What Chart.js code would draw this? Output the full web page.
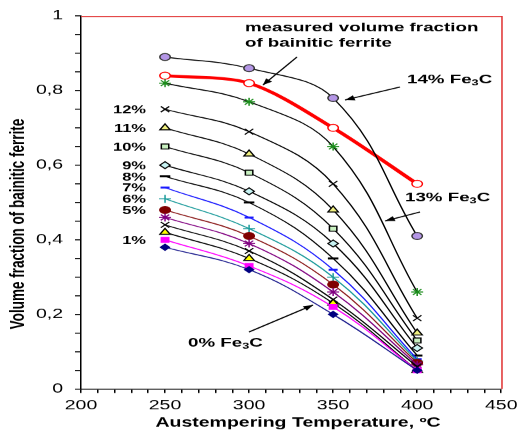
<!DOCTYPE html>
<html>
<head>
<meta charset="utf-8">
<script src="https://cdn.jsdelivr.net/npm/chart.js@4.4.1/dist/chart.umd.min.js"></script>
<style>
html,body{margin:0;padding:0;background:#fff;overflow:hidden;}
#wrap{position:absolute;left:0;top:0;width:350px;height:438px;transform:scaleX(1.5);transform-origin:0 0;}
canvas{display:block;}
</style>
</head>
<body>
<div id="wrap"><canvas id="c" width="350" height="438" style="width:350px;height:438px"></canvas></div>
<script>
// ---- data ----
const temps = [250, 300, 350, 400];
const fe0  = [0.38, 0.32, 0.20, 0.05];
const fe1  = [0.40, 0.33, 0.22, 0.05];
const fe2  = [0.42, 0.35, 0.23, 0.05];
const fe3  = [0.44, 0.37, 0.24, 0.06];
const fe4  = [0.46, 0.39, 0.26, 0.065];
const fe5  = [0.48, 0.41, 0.28, 0.07];
const fe6  = [0.51, 0.43, 0.30, 0.075];
const fe7  = [0.54, 0.46, 0.32, 0.08];
const fe8  = [0.57, 0.50, 0.35, 0.09];
const fe9  = [0.60, 0.53, 0.39, 0.11];
const fe10 = [0.65, 0.58, 0.43, 0.13];
const fe11 = [0.70, 0.63, 0.48, 0.15];
const fe12 = [0.75, 0.69, 0.55, 0.19];
const fe13 = [0.82, 0.77, 0.65, 0.26];
const fe14 = [0.89, 0.86, 0.78, 0.41];
const measured = [0.84, 0.82, 0.70, 0.55];
const xTickLabels = [200, 250, 300, 350, 400, 450];
const yTickLabels = ['0', '0,2', '0,4', '0,6', '0,8', '1'];

const pts = arr => arr.map((v, i) => ({x: temps[i], y: v}));
function ds(label, arr, o) {
  return Object.assign({
    label, data: pts(arr), borderColor: '#000', borderWidth: 1, tension: 0.4,
    pointRadius: 3, pointBorderWidth: 1, pointBorderColor: '#000', pointBackgroundColor: '#000',
    pointStyle: 'circle', fill: false
  }, o);
}
const datasets = [
  ds('0%', fe0, {borderColor:'#1a1a8c', pointStyle:'rectRot', pointBackgroundColor:'#000080', pointBorderColor:'#000080'}),
  ds('1%', fe1, {borderColor:'#ff00ff', pointStyle:'rect', pointBackgroundColor:'#ff00ff', pointBorderColor:'#ff00ff', pointRadius:3.5}),
  ds('2%', fe2, {pointStyle:'triangle', pointBackgroundColor:'#ffff00', pointRadius:4}),
  ds('3%', fe3, {pointStyle:'crossRot', pointRadius:4}),
  ds('4%', fe4, {borderColor:'#800080', pointStyle:'star', pointBorderColor:'#800080', pointRadius:4}),
  ds('5%', fe5, {borderColor:'#8b1a1a', pointStyle:'circle', pointBackgroundColor:'#800000', pointBorderColor:'#800000', pointRadius:3.5}),
  ds('6%', fe6, {borderColor:'#1a9a9a', pointStyle:'cross', pointBorderColor:'#1a9a9a', pointRadius:4}),
  ds('7%', fe7, {borderColor:'#1a1aff', pointStyle:'line', pointBorderColor:'#1a1aff', pointBorderWidth:2, pointRadius:3}),
  ds('8%', fe8, {pointStyle:'line', pointBorderWidth:2, pointRadius:3.5}),
  ds('9%', fe9, {pointStyle:'rectRot', pointBackgroundColor:'#c8f4f4', pointRadius:3.5}),
  ds('10%', fe10, {pointStyle:'rect', pointBackgroundColor:'#c8f0c0', pointRadius:3.5}),
  ds('11%', fe11, {pointStyle:'triangle', pointBackgroundColor:'#f0f080', pointRadius:4}),
  ds('12%', fe12, {pointStyle:'crossRot', pointRadius:4}),
  ds('13%', fe13, {pointStyle:'star', pointBorderColor:'#1a8c1a', pointRadius:4}),
  ds('14%', fe14, {pointStyle:'circle', pointBackgroundColor:'#b496e6', pointBorderColor:'#333', pointRadius:3.5}),
  ds('measured', measured, {borderColor:'#ff0000', borderWidth:3, tension:0.3, pointStyle:'circle', pointBackgroundColor:'#fff', pointBorderColor:'#ff0000', pointRadius:3.5})
];
const leftLabels = ['12%','11%','10%','9%','8%','7%','6%','5%','1%'];

function fe3c(ctx, txt, x, y) {
  ctx.font = 'bold 12.5px "Liberation Sans", Arial, sans-serif';
  ctx.textAlign = 'left'; ctx.textBaseline = 'middle';
  const a = txt + ' Fe';
  ctx.fillText(a, x, y);
  let w = ctx.measureText(a).width;
  ctx.font = 'bold 8.5px "Liberation Sans", Arial, sans-serif';
  ctx.fillText('3', x + w, y + 3);
  w += ctx.measureText('3').width;
  ctx.font = 'bold 12.5px "Liberation Sans", Arial, sans-serif';
  ctx.fillText('C', x + w, y);
}
function arrow(ctx, x1, y1, x2, y2) {
  ctx.beginPath(); ctx.moveTo(x1, y1); ctx.lineTo(x2, y2);
  ctx.strokeStyle = '#000'; ctx.lineWidth = 1; ctx.stroke();
  const ang = Math.atan2(y2 - y1, x2 - x1), L = 7, W = 0.38;
  ctx.beginPath(); ctx.moveTo(x2, y2);
  ctx.lineTo(x2 - L * Math.cos(ang - W), y2 - L * Math.sin(ang - W));
  ctx.lineTo(x2 - L * Math.cos(ang + W), y2 - L * Math.sin(ang + W));
  ctx.closePath(); ctx.fillStyle = '#000'; ctx.fill();
}

const deco = {
  id: 'deco',
  beforeDatasetsDraw(chart) {
    const {ctx, chartArea: a} = chart;
    ctx.save();
    ctx.strokeStyle = '#e03030'; ctx.lineWidth = 1;
    ctx.beginPath();
    ctx.moveTo(a.left, a.top + 0.5); ctx.lineTo(a.right + 0.5, a.top + 0.5); ctx.lineTo(a.right + 0.5, a.bottom);
    ctx.stroke();
    ctx.restore();
  },
  afterDraw(chart) {
    const {ctx, chartArea: a, scales} = chart;
    const xs = scales.x, ys = scales.y;
    ctx.save();
    ctx.fillStyle = '#000';
    // axis titles
    ctx.font = 'bold 13px "Liberation Sans", Arial, sans-serif';
    ctx.textAlign = 'center'; ctx.textBaseline = 'middle';
    ctx.fillText('Austempering Temperature, ºC', 198.7, 423);
    ctx.save();
    ctx.translate(12, 224); ctx.rotate(-Math.PI / 2);
    ctx.font = 'bold 13.5px "Liberation Sans", Arial, sans-serif';
    ctx.fillText('Volume fraction of bainitic ferrite', 0, 0);
    ctx.restore();
    // left percent labels
    ctx.font = 'bold 11px "Liberation Sans", Arial, sans-serif';
    ctx.textAlign = 'right'; ctx.textBaseline = 'middle';
    const x0 = xs.getPixelForValue(temps[0]) - 12.7;
    chart.data.datasets.forEach(d => {
      if (leftLabels.includes(d.label)) {
        ctx.fillText(d.label, x0, ys.getPixelForValue(d.data[0].y) + 1);
      }
    });
    // annotations
    ctx.font = 'bold 12.5px "Liberation Sans", Arial, sans-serif';
    ctx.textAlign = 'left';
    ctx.fillText('measured volume fraction', 163.3, 28);
    ctx.fillText('of bainitic ferrite', 163.3, 43);
    arrow(ctx, 198, 57, 175.3, 85);
    fe3c(ctx, '14%', 271.3, 80);
    arrow(ctx, 266.7, 87, 230, 100);
    fe3c(ctx, '13%', 270, 198);
    arrow(ctx, 280, 212, 256.7, 221);
    fe3c(ctx, '0%', 125.3, 343);
    arrow(ctx, 166, 332, 208.7, 305);
    ctx.restore();
  }
};

new Chart(document.getElementById('c'), {
  type: 'line',
  data: {datasets},
  options: {
    responsive: false,
    devicePixelRatio: 1.5,
    animation: false,
    layout: {padding: {top: 16, right: 12.7, left: 0, bottom: 0}},
    plugins: {legend: {display: false}, tooltip: {enabled: false}},
    scales: {
      x: {
        type: 'linear', min: 200, max: 450,
        afterFit: s => { s.height = 49; },
        grid: {display: true, drawOnChartArea: false, drawTicks: true, tickLength: 4, color: '#000'},
        border: {display: true, color: '#000', width: 1},
        ticks: {
          stepSize: 10, autoSkip: false, maxRotation: 0, padding: 5, color: '#000',
          font: {family: '"Liberation Sans", Arial, sans-serif', size: 13},
          callback: v => { const r = Math.round(v); return xTickLabels.includes(r) ? String(r) : ''; }
        }
      },
      y: {
        type: 'linear', min: 0, max: 1,
        afterFit: s => { s.width = 54; },
        grid: {display: true, drawOnChartArea: false, drawTicks: true, tickLength: 4, color: '#000'},
        border: {display: true, color: '#000', width: 1},
        ticks: {
          stepSize: 0.05, autoSkip: false, padding: 8, color: '#000',
          font: {family: '"Liberation Sans", Arial, sans-serif', size: 13},
          callback: v => { const k = Math.round(v * 100); return k % 20 === 0 ? yTickLabels[k / 20] : ''; }
        }
      }
    }
  },
  plugins: [deco]
});
</script>
</body>
</html>
